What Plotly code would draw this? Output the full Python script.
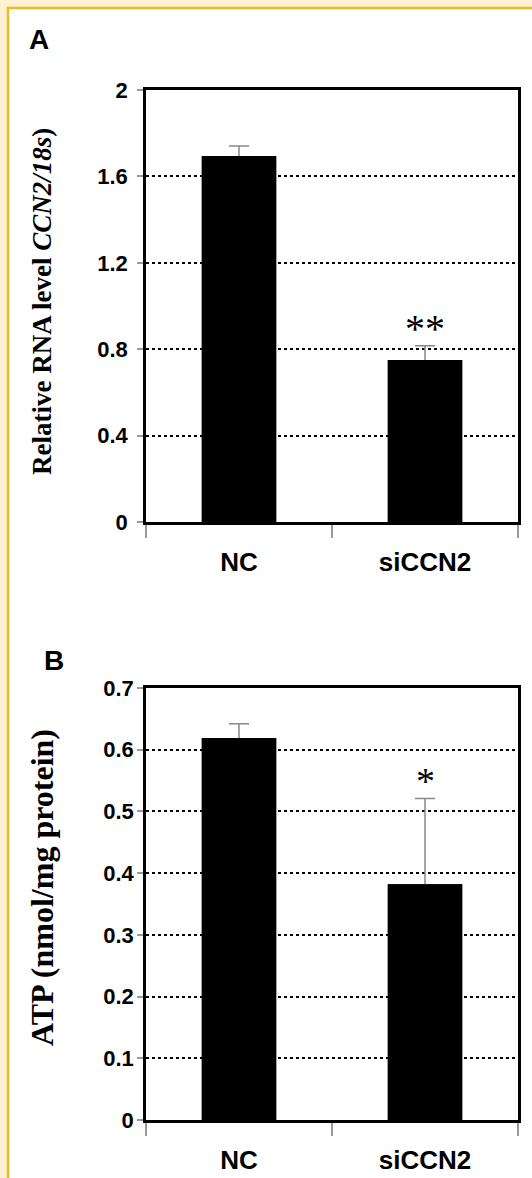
import plotly.graph_objects as go

categories = ["NC", "siCCN2"]
rna_values = [1.695, 0.75]
rna_errors = [0.046, 0.066]
atp_values = [0.619, 0.382]
atp_errors = [0.023, 0.139]
rna_ticks = [0, 0.4, 0.8, 1.2, 1.6, 2]
atp_ticks = [0, 0.1, 0.2, 0.3, 0.4, 0.5, 0.6, 0.7]
rna_marks = ["", "**"]
atp_marks = ["", "*"]

W, H = 532, 1178
SANS = "Arial, Liberation Sans, sans-serif"
SERIF = "Times New Roman, Liberation Serif, serif"

def px_x(v):
    return v / W

def px_y(v):
    return 1 - v / H

fig = go.Figure()

for vals, errs, xa, ya in [(rna_values, rna_errors, "x", "y"), (atp_values, atp_errors, "x2", "y2")]:
    # bar carrying the error bar
    fig.add_trace(go.Bar(
        x=categories, y=vals, width=0.4,
        marker=dict(color="black", line=dict(width=0)),
        error_y=dict(type="data", array=errs, symmetric=True,
                     color="#888888", thickness=1.5, width=10),
        xaxis=xa, yaxis=ya, showlegend=False))
    # same bar drawn on top, hiding the lower half of the error bar
    fig.add_trace(go.Bar(
        x=categories, y=vals, width=0.4,
        marker=dict(color="black", line=dict(width=0)),
        xaxis=xa, yaxis=ya, showlegend=False, hoverinfo="skip"))

xdom = [px_x(146), px_x(518)]
common_x = dict(
    type="category", range=[-0.5, 1.5], tickson="boundaries",
    ticks="outside", ticklen=13, tickwidth=1.5, tickcolor="#999999",
    showline=True, linecolor="black", linewidth=2.5, mirror=True,
    showgrid=False, zeroline=False, automargin=False,
    tickfont=dict(family=SANS, size=26, color="black", weight="bold"),
    ticklabelstandoff=15, domain=xdom)
common_y = dict(
    ticks="outside", ticklen=6, tickwidth=1.5, tickcolor="#999999",
    showline=True, linecolor="black", linewidth=2.5, mirror=True,
    showgrid=True, gridcolor="black", gridwidth=2, griddash="dot",
    zeroline=False, automargin=False,
    tickfont=dict(family=SANS, size=22, color="black", weight="bold"))

fig.update_layout(
    width=W, height=H,
    margin=dict(l=0, r=0, t=0, b=0),
    paper_bgcolor="#FDF0D3",
    plot_bgcolor="white",
    barmode="overlay",
    xaxis=dict(anchor="y", **common_x),
    xaxis2=dict(anchor="y2", **common_x),
    yaxis=dict(anchor="x", range=[0, 2], tickvals=rna_ticks,
               ticktext=[f"{t:g}" for t in rna_ticks],
               domain=[px_y(522), px_y(90)], ticklabelstandoff=5, **common_y),
    yaxis2=dict(anchor="x2", range=[0, 0.7], tickvals=atp_ticks,
                ticktext=[f"{t:g}" for t in atp_ticks],
                domain=[px_y(1120), px_y(688)], ticklabelstandoff=-1, **common_y),
)

fig.add_shape(type="rect", xref="paper", yref="paper",
              x0=px_x(8), x1=1.05, y0=-0.05, y1=px_y(8),
              fillcolor="white", line=dict(color="#F2B820", width=2.5), layer="below")

def ann(text, x, y, size, family, angle=0):
    return dict(text=text, xref="paper", yref="paper", x=px_x(x), y=px_y(y),
                xanchor="center", yanchor="middle", textangle=angle, showarrow=False,
                font=dict(family=family, size=size, color="black"))

anns = [
    ann("<b>A</b>", 39, 40, 28, SANS),
    ann("<b>B</b>", 54, 660, 28, SANS),
    ann("<b>Relative RNA level <i>CCN2/18s</i>)</b>", 42, 302, 27, SERIF, -90),
    ann("<b>ATP (nmol/mg protein)</b>", 42, 888, 32, SERIF, -90),
]
for c, v, e, m in zip(categories, rna_values, rna_errors, rna_marks):
    if m:
        anns.append(dict(text=m, xref="x", yref="y", x=c, y=v + e, yanchor="middle",
                         yshift=17, showarrow=False,
                         font=dict(family=SERIF, size=40, color="black")))
for c, v, e, m in zip(categories, atp_values, atp_errors, atp_marks):
    if m:
        anns.append(dict(text=m, xref="x2", yref="y2", x=c, y=v + e, yanchor="middle",
                         yshift=17, showarrow=False,
                         font=dict(family=SERIF, size=38, color="black")))
fig.update_layout(annotations=anns)

fig.write_html("out.html", config={"displayModeBar": False},
               post_script="document.body.style.margin='0';")
